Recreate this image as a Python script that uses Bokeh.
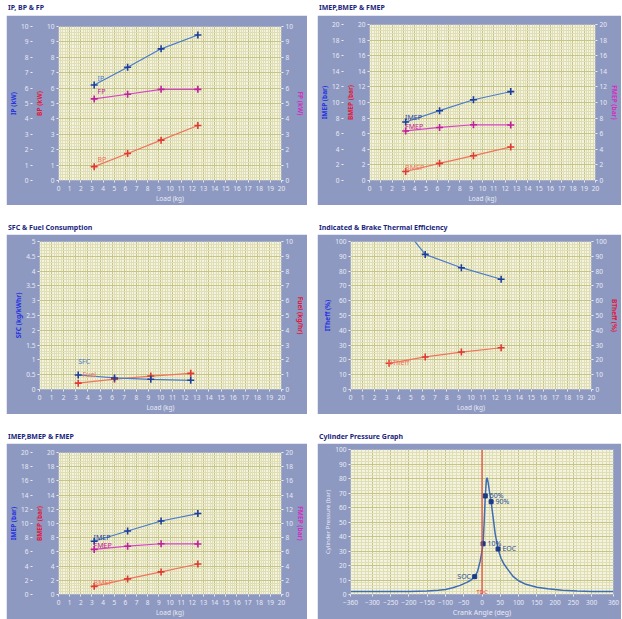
from bokeh.plotting import figure
from bokeh.models import (Range1d, LinearAxis, SingleIntervalTicker, FixedTicker, Div, Spacer,
                          CustomJSTickFormatter, Span)
from bokeh.layouts import column, row
from bokeh.embed import file_html
from bokeh.resources import INLINE
from bokeh.core.properties import value

# ---------------- data ----------------
load = [3.2, 6.2, 9.2, 12.5]
ip_kw = [6.2, 7.35, 8.55, 9.45]
bp_kw = [0.9, 1.75, 2.62, 3.57]
fp_kw = [5.3, 5.6, 5.92, 5.92]
imep = [7.5, 8.95, 10.35, 11.4]
bmep = [1.15, 2.2, 3.18, 4.3]
fmep = [6.35, 6.8, 7.15, 7.12]
sfc = [0.49, 0.39, 0.345, 0.31]
fuel = [0.43, 0.70, 0.91, 1.09]
itheff = [121.9, 91.3, 82.3, 74.5]
btheff = [17.7, 22.0, 25.3, 28.2]

crank = [-360, -300, -250, -200, -150, -120, -100, -80, -60, -40, -30, -20, -12, -5, 0, 3, 6, 9,
         12, 14, 17, 21, 25, 30, 36, 44, 52, 60, 70, 85, 100, 120, 150, 180, 220, 260, 300, 360]
pressure = [2.0, 2.0, 2.0, 2.1, 2.4, 2.9, 3.5, 4.6, 6.3, 8.5, 10.0, 12.3, 16.0, 23.0, 30.0, 35.0,
            50.0, 68.0, 79.0, 80.5, 77.0, 70.0, 64.0, 54.0, 42.0, 31.4, 25.0, 21.0, 17.5, 12.5,
            9.5, 7.0, 5.0, 4.0, 3.0, 2.4, 2.1, 2.0]
event_names = ["SOC", "10%", "50%", "90%", "EOC"]
event_angle = [-20, 3, 9, 25, 44]
event_pressure = [12.3, 35.0, 68.0, 64.0, 31.4]
tdc_angle = 0

# ---------------- style ----------------
FONT = "Noto Sans"
FRAME = "#8e99c1"
PLOTBG = "#f4f3de"
MAJ = "#c6c487"
MINC = "#e0deb6"
TICKC = "#e8ebf6"
TITLEC = "#1b1f7e"
BLUE_L, BLUE_M = "#4a7cc9", "#1d3f9c"
RED_L, RED_M = "#f0735c", "#e03a30"
MAG_L, MAG_M = "#d845c4", "#c0209a"
AX_BLUE, AX_RED, AX_MAG = "#2434e0", "#e0183c", "#d030c0"

WL = 301   # left column width
WR = 304   # right column width


def title_div(text, w, h):
    return Div(text=text, width=w, height=h, margin=(0, 0, 0, 0),
               styles={"font-size": "7px", "font-weight": "bold", "color": TITLEC,
                       "font-family": FONT, "line-height": "%dpx" % h, "padding-left": "2px",
                       "white-space": "nowrap"})


def make_fig(w, h, xr, yr, mb):
    p = figure(width=w, height=h, x_range=xr, y_range=yr, output_backend="svg",
               toolbar_location=None, min_border_left=mb[0], min_border_right=mb[1],
               min_border_top=mb[2], min_border_bottom=mb[3])
    p.border_fill_color = FRAME
    p.background_fill_color = PLOTBG
    p.outline_line_color = "#a0a8c6"
    return p


def style_axis(ax, label, color, ticker, fmt=None, bold=True, lsize="6.5px"):
    ax.axis_label = label
    ax.axis_label_text_color = color
    ax.axis_label_text_font_size = lsize
    ax.axis_label_text_font_style = "bold" if bold else "normal"
    ax.axis_label_text_font = FONT
    ax.axis_label_standoff = 0
    ax.major_label_text_font_size = "6.5px"
    ax.major_label_text_font = FONT
    ax.major_label_text_color = TICKC
    ax.major_label_standoff = 0
    ax.major_tick_out = 2
    ax.major_tick_in = 0
    ax.major_tick_line_color = TICKC
    ax.minor_tick_line_color = None
    ax.axis_line_color = None
    ax.ticker = ticker
    if fmt is not None:
        ax.formatter = fmt


def style_grid(p, xt, yt):
    for g, t in ((p.xgrid[0], xt), (p.ygrid[0], yt)):
        g.ticker = t
        g.grid_line_color = MAJ
        g.grid_line_width = 1
        g.minor_grid_line_color = MINC
        g.minor_grid_line_width = 1


def load_axis(p):
    xt = SingleIntervalTicker(interval=1, num_minor_ticks=5)
    style_axis(p.xaxis[0], "Load (kg)", TICKC, xt, bold=False)
    p.xaxis[0].major_label_standoff = 1
    return xt


def series(p, x, y, lc, mc, y_range_name="default"):
    p.line(x, y, line_color=lc, line_width=1.2, y_range_name=y_range_name)
    p.scatter(x, y, marker="cross", size=7, line_color=mc, line_width=1.6,
              y_range_name=y_range_name)


def label(p, x, y, text, color, y_range_name="default", align="left", size="7px"):
    p.text([x], [y], text=[text], text_color=color, text_font=value(FONT),
           text_font_size=size, text_baseline="middle", text_align=align,
           y_range_name=y_range_name)


def fmt_g():
    return CustomJSTickFormatter(code="return String(Math.round(tick*100)/100);")


# ---------- panel 1: IP, BP & FP ----------
p1 = make_fig(WL, 190, Range1d(0, 20), Range1d(0, 10), (44, 25, 11, 21))
xt = load_axis(p1)
yt = SingleIntervalTicker(interval=1, num_minor_ticks=5)
style_axis(p1.yaxis[0], "BP (kW)", AX_RED, yt)
ax_ip = LinearAxis()
style_axis(ax_ip, "IP (kW)", AX_BLUE, yt)
p1.add_layout(ax_ip, "left")
ax_fp = LinearAxis()
style_axis(ax_fp, "FP (kW)", AX_MAG, yt)
p1.add_layout(ax_fp, "right")
style_grid(p1, xt, yt)
series(p1, load, ip_kw, BLUE_L, BLUE_M)
series(p1, load, fp_kw, MAG_L, MAG_M)
series(p1, load, bp_kw, RED_L, RED_M)
label(p1, load[0] + 0.3, ip_kw[0] + 0.45, "IP", BLUE_L)
label(p1, load[0] + 0.3, fp_kw[0] + 0.45, "FP", MAG_M)
label(p1, load[0] + 0.3, bp_kw[0] + 0.45, "BP", RED_L)


# ---------- panel 2 / 5: IMEP, BMEP & FMEP ----------
def mep_panel(w, h, mb):
    p = make_fig(w, h, Range1d(0, 20), Range1d(0, 20), mb)
    xt = load_axis(p)
    yt = SingleIntervalTicker(interval=2, num_minor_ticks=5)
    style_axis(p.yaxis[0], "BMEP (bar)", AX_RED, yt)
    a1 = LinearAxis()
    style_axis(a1, "IMEP (bar)", AX_BLUE, yt)
    p.add_layout(a1, "left")
    a2 = LinearAxis()
    style_axis(a2, "FMEP (bar)", AX_MAG, yt)
    p.add_layout(a2, "right")
    style_grid(p, xt, yt)
    series(p, load, imep, BLUE_L, BLUE_M)
    series(p, load, fmep, MAG_L, MAG_M)
    series(p, load, bmep, RED_L, RED_M)
    label(p, load[0] - 0.05, imep[0] + 0.55, "IMEP", BLUE_M)
    label(p, load[0] - 0.05, fmep[0] + 0.55, "FMEP", MAG_M)
    label(p, load[0] - 0.05, bmep[0] + 0.5, "BMEP", RED_L)
    return p


p2 = mep_panel(WR, 190, (48, 19, 9, 21))
p5 = mep_panel(WL, 176, (44, 25, 9, 18))

# ---------- panel 3: SFC & Fuel ----------
p3 = make_fig(WL, 180, Range1d(0, 20), Range1d(0, 5), (33, 26, 7, 20))
p3.extra_y_ranges = {"fuel": Range1d(0, 10)}
xt = load_axis(p3)
yt = SingleIntervalTicker(interval=0.5, num_minor_ticks=5)
style_axis(p3.yaxis[0], "SFC (kg/kWhr)", AX_BLUE, yt, fmt_g())
ax_fuel = LinearAxis(y_range_name="fuel")
style_axis(ax_fuel, "Fuel (kg/hr)", AX_RED, SingleIntervalTicker(interval=1, num_minor_ticks=5))
p3.add_layout(ax_fuel, "right")
style_grid(p3, xt, yt)
series(p3, load, fuel, RED_L, RED_M, y_range_name="fuel")
series(p3, load, sfc, BLUE_L, BLUE_M)
label(p3, load[0], sfc[0] + 0.47, "SFC", BLUE_L)
label(p3, load[0] + 0.35, fuel[0] + 0.55, "Fuel", RED_L, y_range_name="fuel")

# ---------- panel 4: thermal efficiency ----------
p4 = make_fig(WR, 180, Range1d(0, 20), Range1d(0, 100), (33, 23, 7, 20))
xt = load_axis(p4)
yt = SingleIntervalTicker(interval=10, num_minor_ticks=5)
style_axis(p4.yaxis[0], "ITheff (%)", AX_BLUE, yt)
ax_bt = LinearAxis()
style_axis(ax_bt, "BTheff (%)", AX_RED, yt)
p4.add_layout(ax_bt, "right")
style_grid(p4, xt, yt)
series(p4, load, itheff, BLUE_L, BLUE_M)
series(p4, load, btheff, RED_L, RED_M)
label(p4, load[0] - 0.1, btheff[0] + 0.8, "BTheff", RED_L)

# ---------- panel 6: cylinder pressure ----------
p6 = make_fig(WR, 176, Range1d(-360, 360), Range1d(0, 100), (33, 8, 6, 18))
xt6 = FixedTicker(ticks=[-360, -300, -250, -200, -150, -100, -50, 0, 50, 100, 150, 200, 250, 300, 360],
                  minor_ticks=list(range(-360, 361, 10)))
yt6 = SingleIntervalTicker(interval=10, num_minor_ticks=5)
style_axis(p6.xaxis[0], "Crank Angle (deg)", TICKC, xt6, bold=False, lsize="7px")
p6.xaxis[0].major_label_standoff = 1
style_axis(p6.yaxis[0], "Cylinder Pressure (bar)", TICKC, yt6, bold=False, lsize="6px")
style_grid(p6, xt6, yt6)
p6.add_layout(Span(location=tdc_angle, dimension="height", line_color="#e0483a", line_width=1.2))
p6.line(crank, pressure, line_color="#3d6db3", line_width=1.5)
p6.scatter(event_angle, event_pressure, marker="square", size=4, fill_color="#1a3a8a",
           line_color="#1a3a8a")
for nm, a, pr in zip(event_names, event_angle, event_pressure):
    if nm == "SOC":
        label(p6, a - 10, pr, nm, "#2d4f95", align="right")
    else:
        label(p6, a + 12, pr, nm, "#2d4f95")
label(p6, tdc_angle, 1.5, "TDC", "#e0483a", align="center", size="6px")


# ---------------- layout ----------------
def cell(title, w, th, p):
    # each panel in its own box so plot frames are not aligned across panels
    return column(title_div(title, w, th), row(p))


col1 = column(cell("IP, BP &amp; FP", WL, 15, p1), Spacer(height=17, width=WL),
              cell("SFC &amp; Fuel Consumption", WL, 12, p3), Spacer(height=17, width=WL),
              cell("IMEP,BMEP &amp; FMEP", WL, 12, p5))
col2 = column(cell("IMEP,BMEP &amp; FMEP", WR, 15, p2), Spacer(height=17, width=WR),
              cell("Indicated &amp; Brake Thermal Efficiency", WR, 12, p4),
              Spacer(height=17, width=WR),
              cell("Cylinder Pressure Graph", WR, 12, p6))
layout = row(Spacer(width=6, height=10), col1, Spacer(width=10, height=10), col2)

open("out.html", "w").write(file_html(layout, INLINE))
